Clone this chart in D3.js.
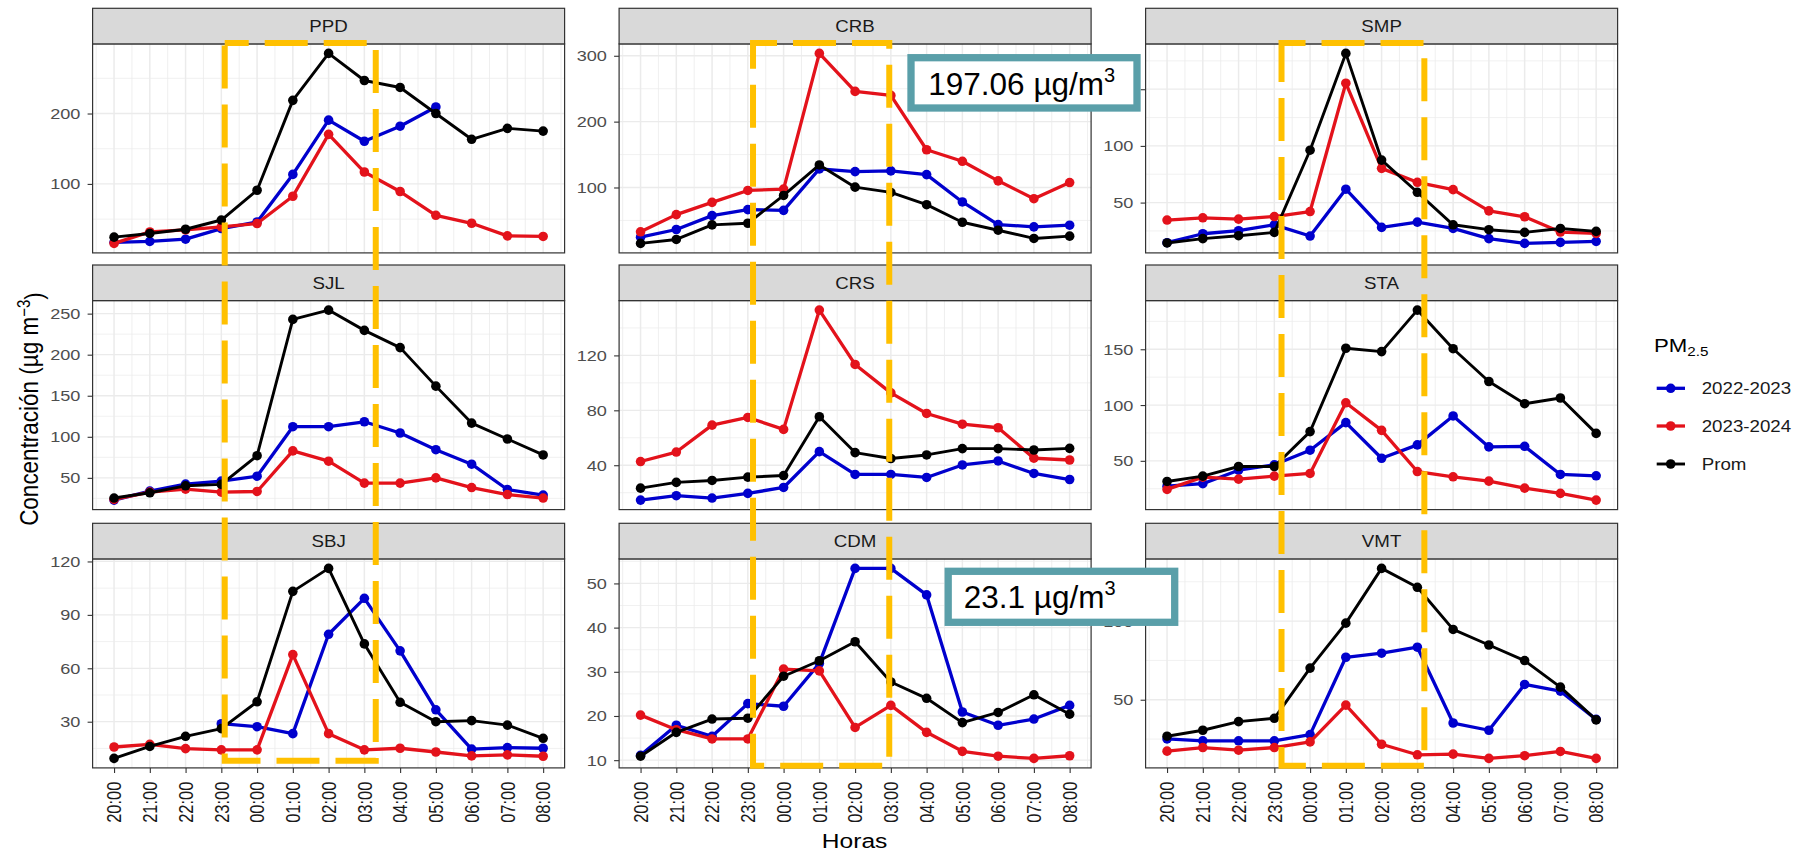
<!DOCTYPE html>
<html>
<head>
<meta charset="utf-8">
<script src="https://cdn.jsdelivr.net/npm/d3@7"></script>
<style>
  body { margin: 0; background: #fff; }
  svg { display: block; }
</style>
</head>
<body>
<script>
// hours on the x axis
var hours = ["20:00","21:00","22:00","23:00","00:00","01:00","02:00","03:00","04:00","05:00","06:00","07:00","08:00"];
var stations = ["PPD","CRB","SMP","SJL","CRS","STA","SBJ","CDM","VMT"];
var seriesNames = ["2022-2023","2023-2024","Prom"];

// PM2.5 per station (2022-2023, 2023-2024, Prom)
var ppd2223 = [17, 18.3, 21.5, 36.6, 45.9, 113.5, 190.6, 160.6, 182, 209.3, null, null, null];
var ppd2324 = [15.5, 31.8, 34.6, 38.9, 43.7, 82.5, 170.4, 116.9, 89.2, 55.4, 44.1, 26.2, 25.4];
var ppdProm = [24.4, 29.6, 35.6, 48.7, 91, 218.7, 285.4, 246.9, 237, 200, 163.4, 178.9, 175];

var crb2223 = [24.6, 36.2, 57.3, 66.4, 65.3, 128.2, 124.1, 125.2, 119.6, 78, 43.7, 40.2, 42.7];
var crb2324 = [32.7, 58.8, 77.4, 95.5, 97.6, 303.6, 245.9, 239.8, 157.3, 139.8, 110.1, 83, 107.5];
var crbProm = [15.1, 21.1, 43.3, 45.7, 87.9, 134.2, 100.5, 92.5, 73.9, 47.2, 35.1, 22.6, 26.1];

var smp2223 = [14.6, 22.5, 25.2, 30.4, 20.5, 61.8, 28.1, 32.8, 27.2, 18.2, 14, 14.9, 15.8];
var smp2324 = [34.6, 36.6, 35.4, 37.7, 42.1, 155.3, 80.2, 67.9, 61.4, 42.7, 37.5, 24, 22.8];
var smpProm = [14.4, 18.2, 20.8, 23.7, 96.2, 181.6, 87.5, 59.1, 30.4, 26.1, 23.7, 27.2, 24.6];

var sjl2223 = [22.9, 33.9, 42.3, 46, 52, 112.3, 112.3, 118.3, 104.6, 84.3, 66.6, 35.8, 29];
var sjl2324 = [23.7, 32.6, 36.3, 32.6, 33.4, 82.8, 70.3, 43.6, 43.6, 50, 38.2, 29.7, 25.4];
var sjlProm = [25.4, 31.8, 40.3, 42, 77, 243, 254.3, 229.6, 208.6, 161.7, 116.7, 97.3, 77.9];

var crs2223 = [14.6, 17.8, 16.1, 19.5, 23.8, 49.9, 33.3, 33.3, 31.1, 40.2, 43.1, 34, 29.6];
var crs2324 = [42.7, 49.6, 69.2, 74.8, 66.1, 153, 113.4, 92.7, 77.7, 69.9, 67.3, 45.1, 43.8];
var crsProm = [23.3, 27.5, 28.9, 31.3, 32.5, 75.3, 49.2, 44.9, 47.5, 52.1, 52.1, 51.1, 52.3];

var sta2223 = [27.3, 29.5, 41.6, 46.4, 59.5, 84.2, 52.3, 64.3, 90.2, 62.5, 63, 37.8, 36.6];
var sta2324 = [24.4, 35.4, 33.6, 36.3, 38.7, 102, 77.3, 40.4, 35.7, 31.8, 25.5, 20.8, 14.8];
var staProm = [31.5, 36.3, 44.9, 44.9, 76.2, 150.9, 147.9, 185.1, 150.5, 121.1, 101.2, 106.3, 74.6];

var sbj2223 = [null, null, null, 28.9, 27.2, 23.3, 79.1, 99.3, 69.8, 36.7, 14.6, 15.5, 15.1];
var sbj2324 = [15.8, 17.3, 14.9, 14.2, 14.2, 67.7, 23.3, 14.2, 15.1, 13, 10.8, 11.4, 10.6];
var sbjProm = [9.4, 16.1, 21.8, 26.1, 41.2, 103.2, 116.1, 73.7, 40.9, 30, 30.6, 28.1, 20.7];

var cdm2223 = [11.1, 17.9, 15.4, 22.8, 22.2, 31.9, 53.4, 53.4, 47.4, 20.9, 17.9, 19.3, 22.4];
var cdm2324 = [20.2, 16.9, 14.8, 14.8, 30.6, 30.2, 17.4, 22.4, 16.3, 12, 10.9, 10.4, 11];
var cdmProm = [10.9, 16.3, 19.3, 19.5, 29, 32.5, 36.8, 27.7, 24, 18.5, 20.8, 24.8, 20.4];

var vmt2223 = [25.1, 23.9, 23.9, 23.9, 27.8, 77, 79.6, 83.4, 35.2, 30.6, 59.7, 55.5, 37.5];
var vmt2324 = [17.3, 19.6, 17.9, 19.6, 23.2, 46.6, 21.7, 15, 15.4, 12.7, 14.4, 17.1, 12.7];
var vmtProm = [26.8, 30.6, 36.1, 38.2, 70.1, 98.7, 133.5, 121.5, 94.7, 84.8, 74.9, 58, 37.2];

// y tick labels per panel
var ppdTicks = [100, 200];
var crbTicks = [100, 200, 300];
var smpTicks = [50, 100, 150];
var sjlTicks = [50, 100, 150, 200, 250];
var crsTicks = [40, 80, 120];
var staTicks = [50, 100, 150];
var sbjTicks = [30, 60, 90, 120];
var cdmTicks = [10, 20, 30, 40, 50];
var vmtTicks = [50, 100];

// annotation labels
var boxLabels = ["197.06 µg/m", "23.1 µg/m"];

var panels = [
  [ppd2223, ppd2324, ppdProm], [crb2223, crb2324, crbProm], [smp2223, smp2324, smpProm],
  [sjl2223, sjl2324, sjlProm], [crs2223, crs2324, crsProm], [sta2223, sta2324, staProm],
  [sbj2223, sbj2324, sbjProm], [cdm2223, cdm2324, cdmProm], [vmt2223, vmt2324, vmtProm]
];
var panelTicks = [ppdTicks, crbTicks, smpTicks, sjlTicks, crsTicks, staTicks, sbjTicks, cdmTicks, vmtTicks];

var colors = ["#0000CD", "#E3121B", "#000000"];
var widths = [3.3, 3.3, 2.9];

// the original plot is stretched sideways, so is its text
var K = 1.17;
var FONT = "'Liberation Sans', Arial, sans-serif";

var colLeft = [92.6, 619.1, 1145.6];
var panelW = 472;
var stripTop = [8.3, 265, 523.3];
var stripH = 35.6;
var panelH = 209;

var svg = d3.select("body").append("svg")
  .attr("width", 1794)
  .attr("height", 852)
  .style("font-family", FONT);

svg.append("rect").attr("width", 1794).attr("height", 852).attr("fill", "#fff");

var colX = [];

stations.forEach(function(st, i) {
  var col = i % 3, row = Math.floor(i / 3);
  var left = colLeft[col], right = left + panelW;
  var top = stripTop[row] + stripH, bottom = top + panelH;
  var series = panels[i];

  var vals = [].concat(series[0], series[1], series[2]).filter(function(v) { return v != null; });
  var ext = d3.extent(vals);
  var pad = (ext[1] - ext[0]) * 0.05;

  var x = d3.scalePoint().domain(hours).range([left, right]).padding(0.6);
  var y = d3.scaleLinear().domain([ext[0] - pad, ext[1] + pad]).range([bottom, top]);
  colX[col] = x;

  var g = svg.append("g");

  g.append("rect")
    .attr("x", left).attr("y", top).attr("width", panelW).attr("height", panelH)
    .attr("fill", "#fff");

  // grid
  var majors = panelTicks[i];
  var tstep = majors[1] - majors[0];
  var minors = [];
  for (var v = majors[0] - tstep / 2; v <= majors[majors.length - 1] + tstep; v += tstep) {
    if (v > y.domain()[0] && v < y.domain()[1]) minors.push(v);
  }
  g.selectAll(".ymin").data(minors).enter().append("line")
    .attr("x1", left).attr("x2", right)
    .attr("y1", function(d) { return y(d); }).attr("y2", function(d) { return y(d); })
    .attr("stroke", "#EBEBEB").attr("stroke-width", 0.7);

  var step = x.step();
  var xmin = [x(hours[0]) - step / 2].concat(hours.map(function(h) { return x(h) + step / 2; }))
    .filter(function(d) { return d > left && d < right; });
  g.selectAll(".xmin").data(xmin).enter().append("line")
    .attr("x1", function(d) { return d; }).attr("x2", function(d) { return d; })
    .attr("y1", top).attr("y2", bottom)
    .attr("stroke", "#EBEBEB").attr("stroke-width", 0.8);

  g.selectAll(".ymaj").data(majors).enter().append("line")
    .attr("x1", left).attr("x2", right)
    .attr("y1", function(d) { return y(d); }).attr("y2", function(d) { return y(d); })
    .attr("stroke", "#EBEBEB").attr("stroke-width", 1.3);

  g.selectAll(".xmaj").data(hours).enter().append("line")
    .attr("x1", function(d) { return x(d); }).attr("x2", function(d) { return x(d); })
    .attr("y1", top).attr("y2", bottom)
    .attr("stroke", "#EBEBEB").attr("stroke-width", 1.5);

  // lines and points
  var line = d3.line()
    .defined(function(d) { return d != null; })
    .x(function(d, j) { return x(hours[j]); })
    .y(function(d) { return y(d); });

  series.forEach(function(s, k) {
    g.append("path")
      .datum(s)
      .attr("d", line)
      .attr("fill", "none")
      .attr("stroke", colors[k])
      .attr("stroke-width", widths[k])
      .attr("stroke-linejoin", "round");

    g.selectAll(".pt" + k)
      .data(s.map(function(d, j) { return { v: d, h: hours[j] }; }).filter(function(d) { return d.v != null; }))
      .enter().append("circle")
      .attr("cx", function(d) { return x(d.h); })
      .attr("cy", function(d) { return y(d.v); })
      .attr("r", 4.8)
      .attr("fill", colors[k]);
  });

  g.append("rect")
    .attr("x", left).attr("y", top).attr("width", panelW).attr("height", panelH)
    .attr("fill", "none").attr("stroke", "#333").attr("stroke-width", 1.2);

  // strip
  g.append("rect")
    .attr("x", left).attr("y", stripTop[row]).attr("width", panelW).attr("height", stripH)
    .attr("fill", "#D9D9D9").attr("stroke", "#333").attr("stroke-width", 1.2);
  g.append("text")
    .attr("transform", "translate(" + (left + panelW / 2) + "," + (stripTop[row] + stripH / 2) + ") scale(" + K + ",1)")
    .attr("text-anchor", "middle")
    .attr("dy", "0.36em")
    .attr("font-size", 16)
    .attr("fill", "#1A1A1A")
    .text(st);

  // y axis; the SMP 150 label sits under the value box, so it is left blank
  var ya = g.append("g")
    .attr("transform", "translate(" + left + ",0)")
    .call(d3.axisLeft(y).tickValues(majors).tickSize(5)
      .tickFormat(function(d) { return (st === "SMP" && d === 150) ? "" : d3.format("d")(d); }));
  ya.select(".domain").remove();
  ya.selectAll("line").attr("stroke", "#333").attr("stroke-width", 1.1);
  ya.selectAll("text")
    .attr("x", -12.2 / K)
    .attr("transform", "scale(" + K + ",1)")
    .attr("font-size", 15.5)
    .attr("font-family", FONT)
    .attr("fill", "#4D4D4D");

  // x axis on the bottom row only
  if (row === 2) {
    var xa = g.append("g")
      .attr("transform", "translate(0," + bottom + ")")
      .call(d3.axisBottom(x).tickSize(5));
    xa.select(".domain").remove();
    xa.selectAll("line").attr("stroke", "#333").attr("stroke-width", 1.1);
    xa.selectAll("text")
      .attr("x", -13.7)
      .attr("y", 0)
      .attr("dy", "0.35em")
      .attr("text-anchor", "end")
      .attr("transform", "scale(" + K + ",1) rotate(-90)")
      .attr("font-size", 16.5)
      .attr("font-family", FONT)
      .attr("fill", "#1A1A1A");
  }
});

// axis titles
svg.append("text")
  .attr("transform", "translate(854.6,848.3) scale(" + K + ",1)")
  .attr("text-anchor", "middle")
  .attr("font-size", 21)
  .attr("fill", "#000")
  .text("Horas");

var yt = svg.append("text")
  .attr("transform", "translate(38.3,409) scale(" + K + ",1) rotate(-90)")
  .attr("text-anchor", "middle")
  .attr("font-size", 22.5)
  .attr("fill", "#000");
yt.append("tspan").text("Concentración (µg m");
yt.append("tspan").attr("dy", "-0.5em").attr("font-size", 15).text("−3");
yt.append("tspan").attr("dy", "0.5em").text(")");

// dashed night-time frames
var frameOff = [[3.4, 11.4], [5.2, -1.6], [7.2, 7]];
var frameBottom = [760.7, 765.7, 765.7];
[0, 1, 2].forEach(function(c) {
  var x = colX[c];
  var x0 = x("23:00") + frameOff[c][0];
  var x1 = x("03:00") + frameOff[c][1];
  svg.append("rect")
    .attr("x", x0).attr("y", 43)
    .attr("width", x1 - x0).attr("height", frameBottom[c] - 43)
    .attr("fill", "none")
    .attr("stroke", "#FFC000")
    .attr("stroke-width", 6)
    .attr("stroke-dasharray", "43 16")
    .attr("stroke-dashoffset", 19);
});

// value boxes
var boxes = [
  { x: 911, y: 57.7, w: 226, h: 50.3, tx: 928.3, ty: 95 },
  { x: 948.2, y: 571.3, w: 226.5, h: 51, tx: 963.7, ty: 608.3 }
];
boxes.forEach(function(b, i) {
  svg.append("rect")
    .attr("x", b.x).attr("y", b.y).attr("width", b.w).attr("height", b.h)
    .attr("fill", "#fff")
    .attr("stroke", "#5A9FA9")
    .attr("stroke-width", 7.3);
  var t = svg.append("text")
    .attr("x", b.tx).attr("y", b.ty)
    .attr("font-size", 31.5)
    .attr("fill", "#000");
  t.append("tspan").text(boxLabels[i]);
  t.append("tspan").attr("dy", -13).attr("font-size", 20).text("3");
});

// legend
var lg = svg.append("g");
var lt = lg.append("text")
  .attr("transform", "translate(1654,351.5) scale(" + K + ",1)")
  .attr("font-size", 19)
  .attr("fill", "#000");
lt.append("tspan").text("PM");
lt.append("tspan").attr("dy", 4).attr("font-size", 13).text("2.5");

var legY = [388.3, 426, 464];
seriesNames.forEach(function(name, k) {
  lg.append("line")
    .attr("x1", 1656.7).attr("x2", 1685)
    .attr("y1", legY[k]).attr("y2", legY[k])
    .attr("stroke", colors[k]).attr("stroke-width", widths[k]);
  lg.append("circle")
    .attr("cx", 1670.7).attr("cy", legY[k]).attr("r", 4.8)
    .attr("fill", colors[k]);
  lg.append("text")
    .attr("transform", "translate(1701.7," + legY[k] + ") scale(" + K + ",1)")
    .attr("dy", "0.36em")
    .attr("font-size", 16)
    .attr("fill", "#1A1A1A")
    .text(name);
});
</script>
</body>
</html>
